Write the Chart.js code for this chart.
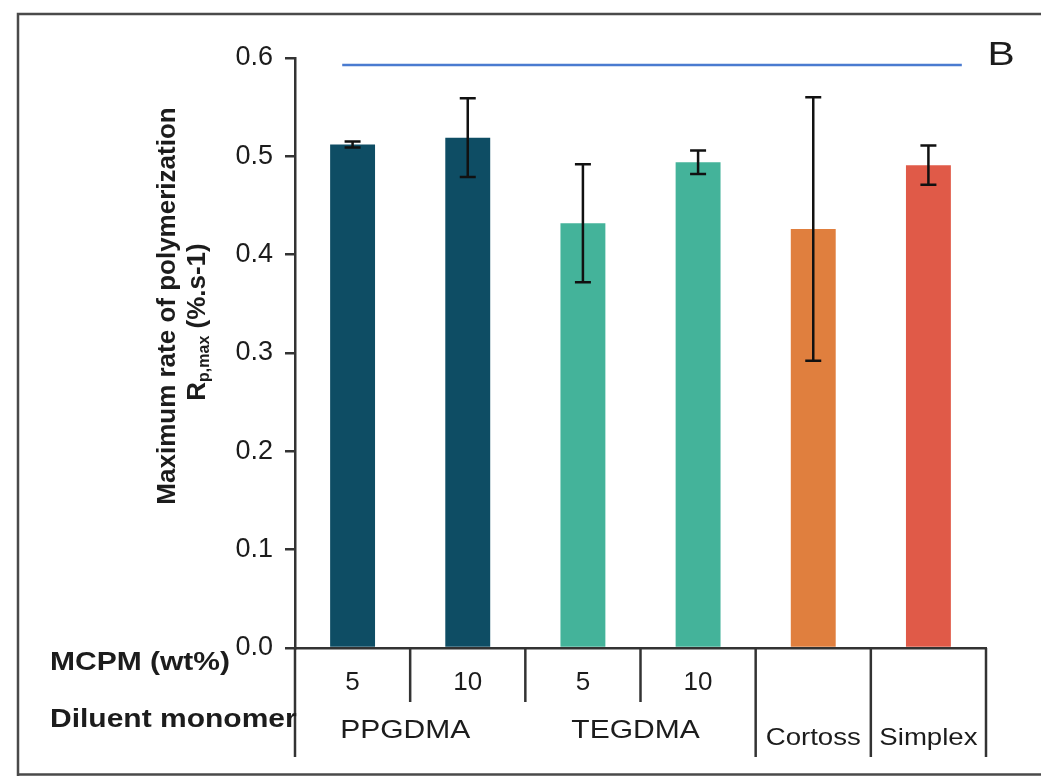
<!DOCTYPE html>
<html>
<head>
<meta charset="utf-8">
<script src="https://cdn.jsdelivr.net/npm/chart.js@4"></script>
<style>
  html, body { margin: 0; padding: 0; background: #fff; }
  #wrap { width: 1041px; height: 776px; }
</style>
</head>
<body>
<div id="wrap"><canvas id="rateChart" width="1041" height="776"></canvas></div>
<script>
// MCPM content per bar, diluent group per bar
const categories = ['5', '10', '5', '10', '', ''];
const groups = ['PPGDMA', 'PPGDMA', 'TEGDMA', 'TEGDMA', 'Cortoss', 'Simplex'];
const rpMax = [0.512, 0.519, 0.432, 0.494, 0.426, 0.491];
const rpErr = [0.003, 0.040, 0.060, 0.012, 0.134, 0.020];
const barColors = ['#0e4d64', '#0e4d64', '#44b39a', '#44b39a', '#e07f3e', '#e05a48'];
// horizontal line above the bars, x in category units
const lineX = [-0.09, 5.29];
const lineY = [0.593, 0.593];

const FONT = '"Liberation Sans", Arial, sans-serif';
const INK = '#1c1c1c';

// text drawn wider, like the stretched original
function wideText(ctx, text, x, y, sx) {
    ctx.save();
    ctx.translate(x, y);
    ctx.scale(sx, 1);
    ctx.fillText(text, 0, 0);
    ctx.restore();
}

const framePlugin = {
    id: 'frame',
    beforeDraw(chart) {
        const ctx = chart.ctx;
        ctx.save();
        ctx.fillStyle = '#fff';
        ctx.fillRect(0, 0, chart.width, chart.height);
        ctx.strokeStyle = '#4a4a4a';
        ctx.lineWidth = 2.5;
        ctx.beginPath();
        ctx.moveTo(18, 776);
        ctx.lineTo(18, 14);
        ctx.lineTo(1041, 14);
        ctx.moveTo(18, 774.5);
        ctx.lineTo(1041, 774.5);
        ctx.stroke();
        ctx.restore();
    }
};

const marksPlugin = {
    id: 'marks',
    afterDatasetsDraw(chart) {
        const ctx = chart.ctx;
        const x = chart.scales.x;
        const y = chart.scales.y;
        const meta = chart.getDatasetMeta(0);
        ctx.save();

        // blue line
        ctx.strokeStyle = '#4a7bd0';
        ctx.lineWidth = 2.5;
        ctx.beginPath();
        ctx.moveTo(x.getPixelForValue(lineX[0]), y.getPixelForValue(lineY[0]));
        ctx.lineTo(x.getPixelForValue(lineX[1]), y.getPixelForValue(lineY[1]));
        ctx.stroke();

        // error bars
        ctx.strokeStyle = '#111';
        ctx.lineWidth = 2.5;
        meta.data.forEach((bar, i) => {
            const top = y.getPixelForValue(rpMax[i] + rpErr[i]);
            const bot = y.getPixelForValue(rpMax[i] - rpErr[i]);
            ctx.beginPath();
            ctx.moveTo(bar.x, top);
            ctx.lineTo(bar.x, bot);
            ctx.moveTo(bar.x - 8, top);
            ctx.lineTo(bar.x + 8, top);
            ctx.moveTo(bar.x - 8, bot);
            ctx.lineTo(bar.x + 8, bot);
            ctx.stroke();
        });
        ctx.restore();
    }
};

const labelsPlugin = {
    id: 'extraLabels',
    afterDraw(chart) {
        const ctx = chart.ctx;
        const x = chart.scales.x;
        const area = chart.chartArea;
        ctx.save();

        // separators under the axis
        ctx.strokeStyle = '#333';
        ctx.lineWidth = 2.5;
        for (let i = 0; i <= categories.length; i++) {
            const px = x.getPixelForValue(i - 0.5);
            const short = i > 0 && i < categories.length && categories[i - 1] && categories[i];
            ctx.beginPath();
            ctx.moveTo(px, area.bottom);
            ctx.lineTo(px, area.bottom + (short ? 54 : 109));
            ctx.stroke();
        }

        // diluent group names
        ctx.fillStyle = INK;
        ctx.textBaseline = 'middle';
        ctx.textAlign = 'center';
        let start = 0;
        for (let i = 1; i <= groups.length; i++) {
            if (i === groups.length || groups[i] !== groups[start]) {
                const cx = (x.getPixelForValue(start) + x.getPixelForValue(i - 1)) / 2;
                const single = i - 1 === start;
                ctx.font = (single ? '24px ' : '25px ') + FONT;
                wideText(ctx, groups[start], single ? cx : cx - 5, area.bottom + (single ? 90 : 83), single ? 1.15 : 1.2);
                start = i;
            }
        }

        // row headers
        ctx.textAlign = 'left';
        ctx.font = 'bold 25px ' + FONT;
        wideText(ctx, 'MCPM (wt%)', 50, 663, 1.2);
        wideText(ctx, 'Diluent monomer', 50, 720, 1.2);

        // panel letter
        ctx.textAlign = 'center';
        ctx.font = '34px ' + FONT;
        wideText(ctx, 'B', 1001, 56, 1.2);

        // y axis title, two lines
        ctx.save();
        ctx.translate(168, 306);
        ctx.rotate(-Math.PI / 2);
        ctx.textAlign = 'center';
        ctx.font = 'bold 26px ' + FONT;
        ctx.fillText('Maximum rate of polymerization', 0, 0);
        ctx.restore();

        ctx.save();
        ctx.translate(198, 322);
        ctx.rotate(-Math.PI / 2);
        ctx.textAlign = 'left';
        const big = 'bold 26px ' + FONT;
        const small = 'bold 16px ' + FONT;
        ctx.font = big;
        const wR = ctx.measureText('R').width;
        const wTail = ctx.measureText(' (%.s-1)').width;
        ctx.font = small;
        const wSub = ctx.measureText('p,max').width;
        let tx = -(wR + wSub + wTail) / 2;
        ctx.font = big;
        ctx.fillText('R', tx, 0);
        tx += wR;
        ctx.font = small;
        ctx.fillText('p,max', tx, 7);
        tx += wSub;
        ctx.font = big;
        ctx.fillText(' (%.s-1)', tx, 0);
        ctx.restore();

        ctx.restore();
    }
};

const ctx = document.getElementById('rateChart').getContext('2d');
const rateChart = new Chart(ctx, {
    type: 'bar',
    data: {
        labels: categories,
        datasets: [
            {
                label: 'Rp,max',
                data: rpMax,
                backgroundColor: barColors,
                borderWidth: 0,
                categoryPercentage: 1,
                barPercentage: 0.39,
            },
        ],
    },
    options: {
        responsive: false,
        animation: false,
        layout: { padding: { top: 58, right: 55, left: 0, bottom: 0 } },
        plugins: {
            legend: { display: false },
            tooltip: { enabled: false },
        },
        scales: {
            x: {
                grid: { display: false, drawTicks: false },
                border: { display: true, color: '#333', width: 2.5 },
                ticks: {
                    color: INK,
                    font: { family: FONT, size: 26 },
                    padding: 19,
                    maxRotation: 0,
                    autoSkip: false,
                },
                afterFit(scale) { scale.height = 128; },
            },
            y: {
                min: 0,
                max: 0.6,
                ticks: {
                    stepSize: 0.1,
                    color: INK,
                    font: { family: FONT, size: 27 },
                    padding: 12,
                    callback: (v) => v.toFixed(1),
                },
                grid: { drawOnChartArea: false, drawTicks: true, tickLength: 10, color: '#333', lineWidth: 2.5 },
                border: { display: true, color: '#333', width: 2.5 },
                afterFit(scale) { scale.width = 295; },
            },
        },
    },
    plugins: [framePlugin, marksPlugin, labelsPlugin],
});
</script>
</body>
</html>
